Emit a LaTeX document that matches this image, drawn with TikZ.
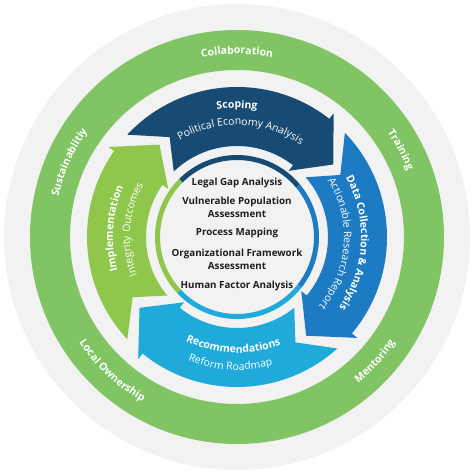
\documentclass[tikz,border=0pt]{standalone}
\usepackage{fontspec}
\setmainfont{Open Sans}
\usetikzlibrary{decorations.text}
\definecolor{discgrey}{HTML}{F2F2F2}
\definecolor{ringgreen}{HTML}{80C464}
\definecolor{navy}{HTML}{174B74}
\definecolor{midblue}{HTML}{1C7BC2}
\definecolor{skyblue}{HTML}{1FAADA}
\definecolor{leafgreen}{HTML}{8FC74C}
\definecolor{inkgrey}{HTML}{1E1E1E}

\begin{document}
\begin{tikzpicture}[line cap=round,line join=round,x=1pt,y=1pt,
  ringlabel/.style={decorate,decoration={text along path,text align=center,text color=white,
    text={|\bfseries\fontsize{10.5}{12}\selectfont|#1}}},
  steptitle/.style={decorate,decoration={text along path,text align=center,text color=white,
    text={|\bfseries\fontsize{10.5}{12}\selectfont|#1}}},
  stepsub/.style={decorate,decoration={text along path,text align=center,text color=white,
    text={|\fontsize{10.5}{12}\selectfont|#1}}},
  centertext/.style={align=center,text=inkgrey,font=\bfseries\fontsize{9.8}{13}\selectfont}]
\useasboundingbox (-237,-237) rectangle (237,237);
\fill [discgrey] (0,0) circle [radius=233];
\fill [ringgreen, even odd rule] (0,0) circle [radius=207] (0,0) circle [radius=167];
% outer ring words
\path [ringlabel={Collaboration}] (150:183) arc [start angle=150, end angle=30, radius=183];
\path [ringlabel={Training}] (88:183) arc [start angle=88, end angle=-32, radius=183];
\path [ringlabel={Sustainablitiy}] (216:183) arc [start angle=216, end angle=96, radius=183];
\path [ringlabel={Mentoring}] (-102:190) arc [start angle=-102, end angle=18, radius=190];
\path [ringlabel={Local Ownership}] (-193:190) arc [start angle=-193, end angle=-73, radius=190];
% the four arrows
\fill [navy] (137:150) arc [start angle=137, end angle=52, radius=150] -- (52:157) -- (37:120.5)
  -- (52:84) -- (52:91) arc [start angle=52, end angle=134, radius=91] -- (124:120.5) -- cycle;
\fill [midblue] (44:150) arc [start angle=44, end angle=-40, radius=150] -- (-40:157) -- (-55:120.5)
  -- (-40:84) -- (-40:91) arc [start angle=-40, end angle=41, radius=91] -- (31:120.5) -- cycle;
\fill [skyblue] (-48:150) arc [start angle=-48, end angle=-129, radius=150] -- (-129:157) -- (-144:120.5)
  -- (-129:84) -- (-129:91) arc [start angle=-129, end angle=-51, radius=91] -- (-61:120.5) -- cycle;
\fill [leafgreen] (223:150) arc [start angle=223, end angle=145, radius=150] -- (145:157) -- (130:120.5)
  -- (145:84) -- (145:91) arc [start angle=145, end angle=220, radius=91] -- (210:120.5) -- cycle;
% arrow words
\path [steptitle={Scoping}] (160:129) arc [start angle=160, end angle=20, radius=129];
\path [stepsub={Political Economy Analysis}] (158:112) arc [start angle=158, end angle=18, radius=112];
\path [steptitle={Data Collection {\&} Analysis}] (67:124) arc [start angle=67, end angle=-73, radius=124];
\path [stepsub={Actionable Research Report}] (66:107) arc [start angle=66, end angle=-74, radius=107];
\path [steptitle={Recommendations}] (-162:116) arc [start angle=-162, end angle=-22, radius=116];
\path [stepsub={Reform Roadmap}] (-163:133) arc [start angle=-163, end angle=-23, radius=133];
\path [steptitle={Implementation}] (246:124) arc [start angle=246, end angle=106, radius=124];
\path [stepsub={Integrity Outcomes}] (246:107) arc [start angle=246, end angle=106, radius=107];
% inner ring
\draw [navy, line width=5, line cap=butt] (135:79.5) arc [start angle=135, end angle=40, radius=79.5];
\draw [midblue, line width=5, line cap=butt] (40:79.5) arc [start angle=40, end angle=-38, radius=79.5];
\draw [skyblue, line width=5, line cap=butt] (-38:79.5) arc [start angle=-38, end angle=-137, radius=79.5];
\draw [leafgreen, line width=5, line cap=butt] (223:79.5) arc [start angle=223, end angle=135, radius=79.5];
% centre list
\node [centertext] (legal) at (0,54) {Legal Gap Analysis};
\node [centertext] (vulnerable) at (0,29.5) {Vulnerable Population\\Assessment};
\node [centertext] (process) at (0,4) {Process Mapping};
\node [centertext] (organizational) at (0,-22.5) {Organizational Framework\\Assessment};
\node [centertext] (human) at (0,-49) {Human Factor Analysis};
\end{tikzpicture}
\end{document}
